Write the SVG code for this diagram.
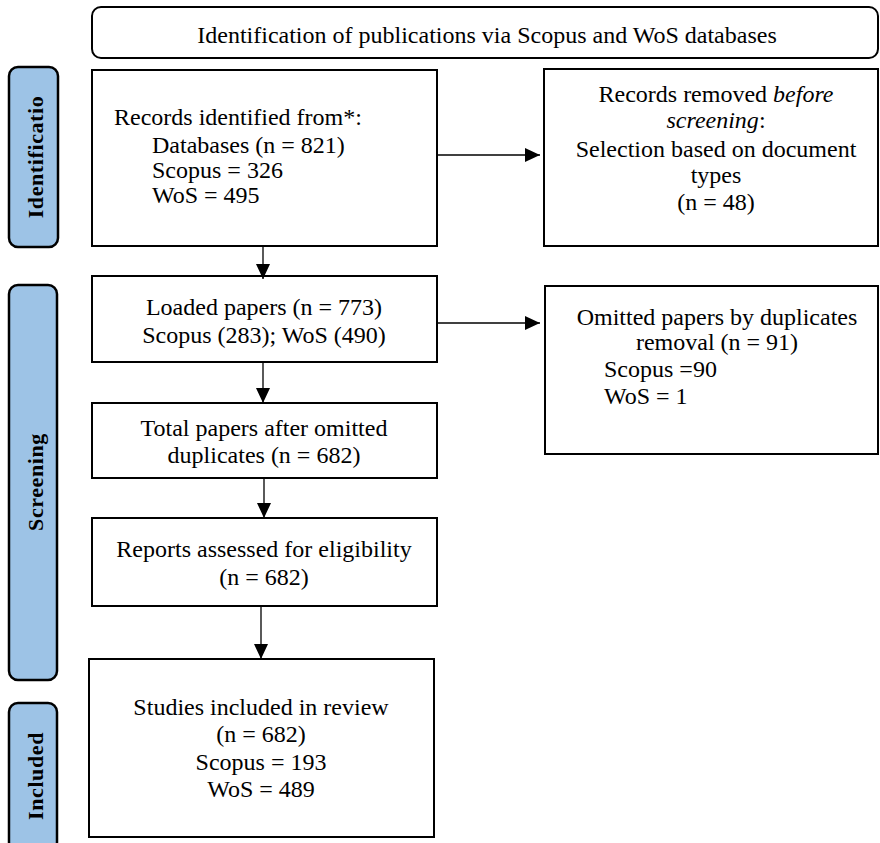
<svg xmlns="http://www.w3.org/2000/svg" width="880" height="843" viewBox="0 0 880 843">
<style>
.box{fill:#fff;stroke:#000;stroke-width:2}
.side{fill:#9DC3E6;stroke:#000;stroke-width:2.5}
.t{font-family:"Liberation Serif","Times New Roman",serif;font-size:24px;fill:#000}
.c{text-anchor:middle}
.s{font-family:"Liberation Serif","Times New Roman",serif;font-size:22px;font-weight:bold;fill:#000;text-anchor:middle;letter-spacing:0.6px}
.ln{stroke:#000;stroke-width:1.3;fill:none}
</style>
<defs>
<marker id="ah" markerUnits="userSpaceOnUse" markerWidth="15" markerHeight="14" refX="15" refY="7" orient="auto">
<path d="M0,0 L15,7 L0,14 z" fill="#000"/>
</marker>
</defs>
<g id="title">
<rect class="box" x="92" y="7" width="786" height="51" rx="9"/>
<text class="t c" x="487" y="43">Identification of publications via Scopus and WoS databases</text>
</g>
<g id="side-identification">
<rect class="side" x="9" y="67" width="49" height="180" rx="9"/>
<text class="s" transform="translate(43,157) rotate(-90)">Identificatio</text>
</g>
<g id="side-screening">
<rect class="side" x="9" y="285" width="48" height="395" rx="9"/>
<text class="s" transform="translate(43,482) rotate(-90)">Screening</text>
</g>
<g id="side-included">
<rect class="side" x="9" y="703" width="48" height="148" rx="9"/>
<text class="s" transform="translate(43,776) rotate(-90)">Included</text>
</g>
<g id="records-identified">
<rect class="box" x="92" y="70" width="345" height="176"/>
<text class="t" x="114" y="125">Records identified from*:</text>
<text class="t" x="152" y="153">Databases (n = 821)</text>
<text class="t" x="152" y="178">Scopus = 326</text>
<text class="t" x="152" y="203">WoS = 495</text>
</g>
<g id="records-removed">
<rect class="box" x="544" y="69" width="334" height="177"/>
<text class="t c" x="716" y="102">Records removed <tspan font-style="italic">before</tspan></text>
<text class="t c" x="716" y="128"><tspan font-style="italic">screening</tspan>:</text>
<text class="t c" x="716" y="157">Selection based on document</text>
<text class="t c" x="716" y="183">types</text>
<text class="t c" x="716" y="210">(n = 48)</text>
</g>
<g id="loaded">
<rect class="box" x="92" y="276" width="345" height="86"/>
<text class="t c" x="264" y="315">Loaded papers (n = 773)</text>
<text class="t c" x="264" y="343">Scopus (283); WoS (490)</text>
</g>
<g id="omitted">
<rect class="box" x="545" y="286" width="333" height="168"/>
<text class="t c" x="717" y="325">Omitted papers by duplicates</text>
<text class="t c" x="717" y="350">removal (n = 91)</text>
<text class="t" x="604" y="377">Scopus =90</text>
<text class="t" x="604" y="404">WoS = 1</text>
</g>
<g id="total">
<rect class="box" x="92" y="403" width="345" height="75"/>
<text class="t c" x="264" y="436">Total papers after omitted</text>
<text class="t c" x="264" y="463">duplicates (n = 682)</text>
</g>
<g id="reports">
<rect class="box" x="92" y="518" width="345" height="88"/>
<text class="t c" x="264" y="557">Reports assessed for eligibility</text>
<text class="t c" x="264" y="585">(n = 682)</text>
</g>
<g id="included">
<rect class="box" x="89" y="659" width="345" height="178"/>
<text class="t c" x="261" y="715">Studies included in review</text>
<text class="t c" x="261" y="742">(n = 682)</text>
<text class="t c" x="261" y="770">Scopus = 193</text>
<text class="t c" x="261" y="797">WoS = 489</text>
</g>
<g id="connectors">
<line class="ln" x1="263" y1="246" x2="263" y2="279" marker-end="url(#ah)"/>
<line class="ln" x1="263" y1="362" x2="263" y2="403" marker-end="url(#ah)"/>
<line class="ln" x1="264" y1="478" x2="264" y2="518" marker-end="url(#ah)"/>
<line class="ln" x1="261" y1="606" x2="261" y2="659" marker-end="url(#ah)"/>
<line class="ln" x1="437" y1="155" x2="540" y2="155" marker-end="url(#ah)"/>
<line class="ln" x1="437" y1="323" x2="540" y2="323" marker-end="url(#ah)"/>
</g>
</svg>
